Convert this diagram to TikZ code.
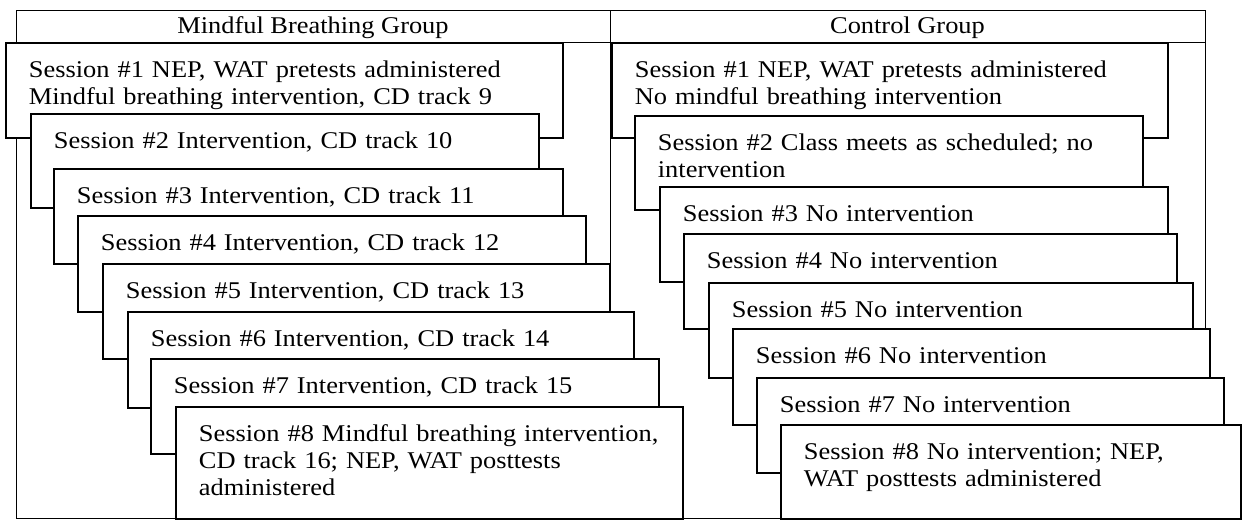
\documentclass[tikz,border=0pt]{standalone}
\usepackage{fontspec}
\setmainfont{Liberation Serif}[FakeStretch=1.1]
\tikzset{session/.style={draw,fill=white,line width=1.8pt,anchor=north west,inner xsep=23pt,inner ysep=0pt,text height=35pt,align=left,font=\fontsize{24}{27}\selectfont}}
\tikzset{frame/.style={draw,line width=1pt}}
\tikzset{head/.style={anchor=base,font=\fontsize{24}{27}\selectfont}}

\begin{document}
\begin{tikzpicture}[x=1pt,y=-1pt]
    \useasboundingbox (0,0) rectangle (1242,520);

    % table frame
    \draw[frame] (16,10) rectangle (1205,518);
    \draw[frame] (16,42) -- (1205,42);
    \draw[frame] (610,10) -- (610,518);
    \node[head] (mbg) at (313,33) {Mindful Breathing Group};
    \node[head] (cg) at (907.5,33) {Control Group};

    % mindful breathing group
    \node[session,text width=511pt,text depth=60pt] (l1) at (5,42) {Session \#1 NEP, WAT pretests administered\\Mindful breathing intervention, CD track 9};
    \node[session,text width=462pt,text depth=59pt] (l2) at (30,113) {Session \#2 Intervention, CD track 10};
    \node[session,text width=463pt,text depth=60pt] (l3) at (53,168) {Session \#3 Intervention, CD track 11};
    \node[session,text width=462pt,text depth=61pt] (l4) at (77,215) {Session \#4 Intervention, CD track 12};
    \node[session,text width=461pt,text depth=60pt] (l5) at (102,263) {Session \#5 Intervention, CD track 13};
    \node[session,text width=460pt,text depth=61pt] (l6) at (127,311) {Session \#6 Intervention, CD track 14};
    \node[session,text width=462pt,text depth=60pt] (l7) at (150,358) {Session \#7 Intervention, CD track 15};
    \node[session,text width=461pt,text depth=77pt] (l8) at (175,406) {Session \#8 Mindful breathing intervention,\\CD track 16; NEP, WAT posttests\\administered};

    % control group
    \node[session,text width=510pt,text depth=60pt] (r1) at (611,42) {Session \#1 NEP, WAT pretests administered\\No mindful breathing intervention};
    \node[session,text width=462pt,text depth=59pt] (r2) at (634,115) {Session \#2 Class meets as scheduled; no\\intervention};
    \node[session,text width=462pt,text depth=60pt] (r3) at (659,186) {Session \#3 No intervention};
    \node[session,text width=447pt,text depth=60pt] (r4) at (683,233) {Session \#4 No intervention};
    \node[session,text width=438pt,text depth=60pt] (r5) at (708,282) {Session \#5 No intervention};
    \node[session,text width=431pt,text depth=61pt] (r6) at (732,328) {Session \#6 No intervention};
    \node[session,text width=421pt,text depth=60pt] (r7) at (756,377) {Session \#7 No intervention};
    \node[session,text width=414pt,text depth=59pt] (r8) at (780,424) {Session \#8 No intervention; NEP,\\WAT posttests administered};
\end{tikzpicture}
\end{document}
